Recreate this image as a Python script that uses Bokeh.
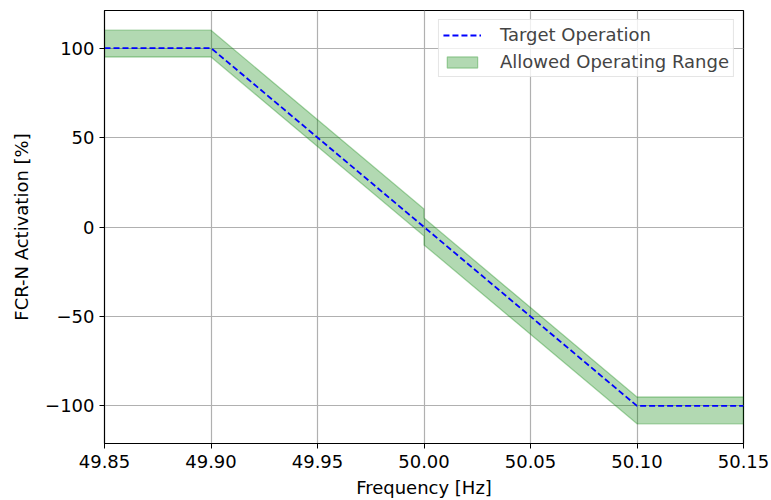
from bokeh.plotting import figure
from bokeh.models import FixedTicker, Legend, LegendItem, ColumnDataSource
from bokeh.embed import file_html
from bokeh.resources import INLINE

# FCR-N activation curve and the allowed operating band
freq = [49.85, 49.90, 50.00, 50.00, 50.10, 50.15]
target = [100, 100, 0, 0, -100, -100]
upper = [110, 110, 10, 5, -95, -95]
lower = [95, 95, -5, -10, -110, -110]

x_ticks = [49.85, 49.90, 49.95, 50.00, 50.05, 50.10, 50.15]
x_tick_labels = ["49.85", "49.90", "49.95", "50.00", "50.05", "50.10", "50.15"]
y_ticks = [-100, -50, 0, 50, 100]
y_tick_labels = ["\u2212100", "\u221250", "0", "50", "100"]

FONT = "DejaVu Sans"
FS = "18px"

p = figure(width=771, height=500, x_range=(49.85, 50.15), y_range=(-121, 121),
           output_backend="svg", toolbar_location=None,
           min_border_left=104, min_border_right=28, min_border_top=10, min_border_bottom=56)

# band polygon: upper edge forward, lower edge back
band_src = ColumnDataSource(dict(x=[freq + freq[::-1]], y=[upper + lower[::-1]]))
band = p.patches("x", "y", source=band_src, fill_color="green", fill_alpha=0.3,
                 line_color="green", line_alpha=0.3, line_width=1.3)

line = p.line(freq, target, line_color="blue", line_width=1.8, line_dash="6 3")

p.outline_line_color = "black"
p.outline_line_width = 1.2
p.background_fill_color = "white"
p.border_fill_color = "white"

for ax, ticks, labels in ((p.xaxis[0], x_ticks, x_tick_labels), (p.yaxis[0], y_ticks, y_tick_labels)):
    ax.ticker = FixedTicker(ticks=ticks)
    ax.major_label_overrides = {t: l for t, l in zip(ticks, labels)}
    ax.minor_tick_line_color = None
    ax.major_tick_in = 0
    ax.major_tick_out = 5
    ax.major_tick_line_color = "black"
    ax.axis_line_color = "black"
    ax.major_label_text_font = FONT
    ax.major_label_text_font_size = FS
    ax.major_label_text_color = "black"
    ax.axis_label_text_font = FONT
    ax.axis_label_text_font_size = FS
    ax.axis_label_text_font_style = "normal"
    ax.axis_label_text_color = "black"

p.xaxis.axis_label = "Frequency [Hz]"
p.yaxis.axis_label = "FCR-N Activation [%]"
p.xaxis.major_label_standoff = 6
p.yaxis.major_label_standoff = 5
p.xaxis.axis_label_standoff = 6
p.yaxis.axis_label_standoff = 10

p.grid.grid_line_color = "#b0b0b0"
p.grid.grid_line_width = 1.2
p.xgrid.ticker = FixedTicker(ticks=x_ticks)
p.ygrid.ticker = FixedTicker(ticks=y_ticks)

legend = Legend(items=[LegendItem(label="Target Operation", renderers=[line]),
                       LegendItem(label="Allowed Operating Range", renderers=[band])],
                location="top_right")
legend.label_text_font = FONT
legend.label_text_font_size = FS
legend.border_line_color = "#cccccc"
legend.border_line_width = 1
legend.background_fill_alpha = 0.8
legend.margin = 9
legend.padding = 4
legend.spacing = 6
legend.glyph_width = 38
legend.glyph_height = 14
legend.label_height = 20
legend.label_standoff = 19
p.add_layout(legend, "center")

open("out.html", "w").write(file_html(p, INLINE))
